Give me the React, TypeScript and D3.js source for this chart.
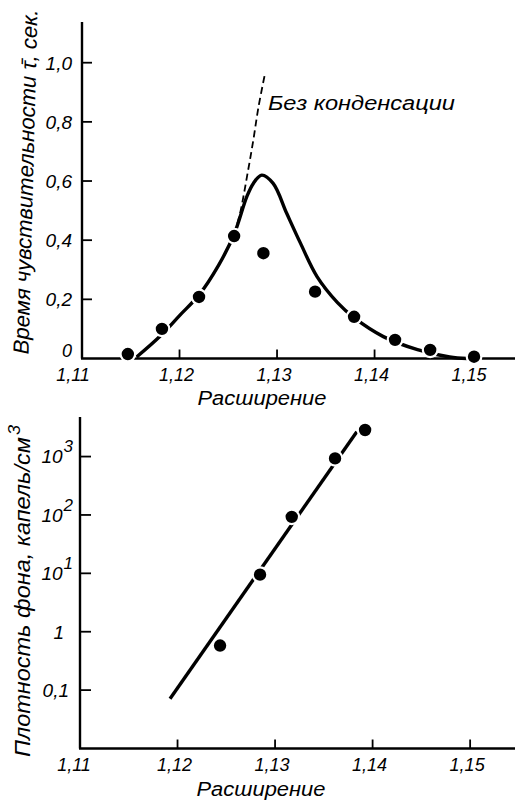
import React from "react";
import * as d3 from "d3";

// ---- Top chart data ----
const topXTicks = [1.12, 1.13, 1.14, 1.15];
const topXTickLabels = ["1,11", "1,12", "1,13", "1,14", "1,15"];
const topXLabelValues = [1.11, 1.12, 1.13, 1.14, 1.15];
const topYTicks = [0.2, 0.4, 0.6, 0.8, 1.0];
const topYLabelValues = [0, 0.2, 0.4, 0.6, 0.8, 1.0];
const topYTickLabels = ["0", "0,2", "0,4", "0,6", "0,8", "1,0"];

const topPointsX = [1.1147, 1.1182, 1.122, 1.1256, 1.1286, 1.1339, 1.1379, 1.1421, 1.1457, 1.1502];
const topPointsY = [0.015, 0.1, 0.208, 0.414, 0.356, 0.226, 0.141, 0.063, 0.029, 0.006];

const curveX = [1.1156, 1.118, 1.12, 1.122, 1.124, 1.1256, 1.1269, 1.12757, 1.12843, 1.1296, 1.131, 1.1324, 1.1341, 1.1362, 1.1379, 1.1409, 1.1444, 1.1477, 1.1495];
const curveY = [0.005, 0.075, 0.145, 0.215, 0.315, 0.42, 0.547, 0.592, 0.62, 0.592, 0.49, 0.39, 0.277, 0.189, 0.138, 0.074, 0.03, 0.005, 0.0];

const dashX = [1.1256, 1.1262, 1.127, 1.12757, 1.1281, 1.12877];
const dashY = [0.42, 0.49, 0.63, 0.739, 0.851, 0.964];

// ---- Bottom chart data ----
const botXTicks = [1.12, 1.13, 1.14, 1.15];
const botXLabelValues = [1.11, 1.12, 1.13, 1.14, 1.15];
const botXTickLabels = ["1,11", "1,12", "1,13", "1,14", "1,15"];
const botYTicks = [0.1, 1, 10, 100, 1000];
const botYBase = ["0,1", "1", "10", "10", "10"];
const botYExp = ["", "", "1", "2", "3"];

const botPointsX = [1.12436, 1.12846, 1.13171, 1.13615, 1.13923];
const botPointsY = [0.58, 9.5, 92.8, 931, 2850];

const botLineX = [1.11923, 1.13838];
const botLineY = [0.0712, 2663];

const FONT = "'Liberation Sans', Arial, sans-serif";

export default function App() {
  const topX = d3.scaleLinear().domain([1.11, 1.1544]).range([82, 515]);
  const topY = d3.scaleLinear().domain([0, 1.1376]).range([358.5, 22]);
  const botX = d3.scaleLinear().domain([1.11, 1.1546]).range([80, 515]);
  const botY = d3.scaleLog().domain([0.01, 4760]).range([748.5, 417]);

  const curveLine = d3
    .line<number>()
    .x((_, i) => topX(curveX[i]))
    .y((_, i) => topY(curveY[i]))
    .curve(d3.curveCatmullRom.alpha(0.5));
  const dashLine = d3
    .line<number>()
    .x((_, i) => topX(dashX[i]))
    .y((_, i) => topY(dashY[i]))
    .curve(d3.curveCatmullRom.alpha(0.5));
  const botLine = d3
    .line<number>()
    .x((_, i) => botX(botLineX[i]))
    .y((_, i) => botY(botLineY[i]));

  const textStyle: React.CSSProperties = { fontFamily: FONT, fontStyle: "italic" };
  const botLabelEnd = (i: number) => (botYExp[i] ? 73 : botYBase[i] === "1" ? 64 : 69);

  return (
    <svg
      width={515}
      height={804}
      style={{ position: "absolute", left: 0, top: 0, background: "#fff" }}
    >
      <rect x={0} y={0} width={515} height={804} fill="#fff" />
      {/* ===== TOP CHART ===== */}
      <g>
        <line x1={82} y1={22} x2={82} y2={topY(0)} stroke="#000" strokeWidth={2.4} />
        <line x1={81} y1={topY(0)} x2={515} y2={topY(0)} stroke="#000" strokeWidth={2.4} />
        {topYTicks.map((t) => (
          <line key={"tyt" + t} x1={82} x2={92} y1={topY(t)} y2={topY(t)} stroke="#000" strokeWidth={1.8} />
        ))}
        {topXTicks.map((t) => (
          <line key={"txt" + t} x1={topX(t)} x2={topX(t)} y1={topY(0)} y2={topY(0) - 9} stroke="#000" strokeWidth={1.8} />
        ))}
        {topYLabelValues.map((v, i) => (
          <text key={"tyl" + i} x={72} y={topY(v) - (i === 0 ? 8 : 0)} dy="0.36em" textAnchor="end" fontSize={i === 0 ? 18 : 19} style={textStyle}>
            {topYTickLabels[i]}
          </text>
        ))}
        {topXLabelValues.map((v, i) => (
          <text key={"txl" + i} x={topX(v) - (i === 0 ? 9 : 3)} y={381} textAnchor="middle" fontSize={18} style={textStyle}>
            {topXTickLabels[i]}
          </text>
        ))}
        <text x={262} y={405} textAnchor="middle" fontSize={20} textLength={129} lengthAdjust="spacingAndGlyphs" style={textStyle}>
          Расширение
        </text>
        <text
          transform="translate(33,182) rotate(-88.5)"
          textAnchor="middle"
          fontSize={22}
          textLength={345}
          lengthAdjust="spacingAndGlyphs"
          style={textStyle}
        >
          Время чувствительности τ̄, сек.
        </text>

        <path d={dashLine(dashX) || ""} fill="none" stroke="#000" strokeWidth={1.8} strokeDasharray="7 4" />
        <path d={curveLine(curveX) || ""} fill="none" stroke="#000" strokeWidth={3.4} strokeLinejoin="round" />
        {topPointsX.map((x, i) => (
          <circle key={"tp" + i} cx={topX(x)} cy={topY(topPointsY[i])} r={7.3} fill="#000" stroke="#fff" strokeWidth={2.2} />
        ))}
        <text x={268} y={110} fontSize={20} textLength={187} lengthAdjust="spacingAndGlyphs" style={textStyle}>
          Без конденсации
        </text>
      </g>

      {/* ===== BOTTOM CHART ===== */}
      <g>
        <line x1={80} y1={417} x2={80} y2={748.5} stroke="#000" strokeWidth={2.4} />
        <line x1={79} y1={748.5} x2={515} y2={748.5} stroke="#000" strokeWidth={2.4} />
        {botYTicks.map((t) => (
          <line key={"byt" + t} x1={80} x2={91} y1={botY(t)} y2={botY(t)} stroke="#000" strokeWidth={1.8} />
        ))}
        {botXTicks.map((t) => (
          <line key={"bxt" + t} x1={botX(t)} x2={botX(t)} y1={748.5} y2={748.5 - 9} stroke="#000" strokeWidth={1.8} />
        ))}
        {botYTicks.map((t, i) => (
          <text key={"byl" + i} x={botLabelEnd(i)} y={botY(t)} dy="0.36em" textAnchor="end" fontSize={19} style={textStyle}>
            {botYBase[i]}
            {botYExp[i] ? (
              <tspan dx={1} dy={-11} fontSize={17}>
                {botYExp[i]}
              </tspan>
            ) : null}
          </text>
        ))}
        {botXLabelValues.map((v, i) => (
          <text key={"bxl" + i} x={botX(v) - (i === 0 ? 6 : 3)} y={771} textAnchor="middle" fontSize={18} style={textStyle}>
            {botXTickLabels[i]}
          </text>
        ))}
        <text x={261} y={796} textAnchor="middle" fontSize={20} textLength={129} lengthAdjust="spacingAndGlyphs" style={textStyle}>
          Расширение
        </text>
        <text
          transform="translate(30,591) rotate(-90)"
          textAnchor="middle"
          fontSize={22}
          textLength={332}
          lengthAdjust="spacingAndGlyphs"
          style={textStyle}
        >
          Плотность фона, капель/см
          <tspan dx={2} dy={-10} fontSize={17}>
            3
          </tspan>
        </text>

        <path d={botLine(botLineX) || ""} fill="none" stroke="#000" strokeWidth={3.4} />
        {botPointsX.map((x, i) => (
          <circle key={"bp" + i} cx={botX(x)} cy={botY(botPointsY[i])} r={7.3} fill="#000" stroke="#fff" strokeWidth={2.2} />
        ))}
      </g>
    </svg>
  );
}
